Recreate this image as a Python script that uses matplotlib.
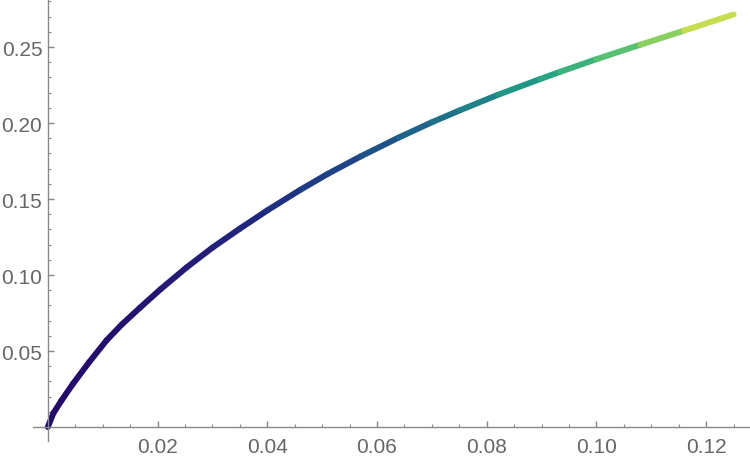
import matplotlib
matplotlib.use('Agg')
import matplotlib.pyplot as plt
import numpy as np
from matplotlib.collections import LineCollection
from matplotlib.colors import LinearSegmentedColormap
from matplotlib.ticker import MultipleLocator

# values
xs = [0, 0.001, 0.0025, 0.0046, 0.0075, 0.0107, 0.0135, 0.0168, 0.0205, 0.0253,
      0.030, 0.035, 0.040, 0.046, 0.051, 0.057, 0.064, 0.070, 0.0752, 0.082,
      0.0898, 0.0934, 0.100, 0.108, 0.116, 0.125]
ys = [0, 0.009, 0.0175, 0.0285, 0.0425, 0.057, 0.0675, 0.0785, 0.0905, 0.105,
      0.118, 0.1305, 0.1425, 0.156, 0.1665, 0.178, 0.1905, 0.2005, 0.2085, 0.2185,
      0.229, 0.2337, 0.242, 0.2515, 0.2608, 0.2714]

x_ticks = [0.02, 0.04, 0.06, 0.08, 0.10, 0.12]
y_ticks = [0.05, 0.10, 0.15, 0.20, 0.25]

color_stops = [(0.0, '#240a68'), (0.1, '#250f6c'), (0.3, '#22277e'), (0.43, '#1e4487'),
               (0.56, '#1e6a8a'), (0.72, '#22a285'), (0.86, '#66c86c'), (1.0, '#e5e548')]

axis_col = '#888888'
label_col = '#666666'

plt.rcParams['font.family'] = ['Liberation Sans', 'DejaVu Sans']


def main():
    cmap = LinearSegmentedColormap.from_list('bgy', color_stops)
    fig = plt.figure(figsize=(7.5, 4.6), dpi=100)
    ax = fig.add_axes([33 / 750, 18 / 460, 717 / 750, 442 / 460])

    x = np.array(xs)
    y = np.array(ys)
    pts = np.column_stack([x, y]).reshape(-1, 1, 2)
    segs = np.concatenate([pts[:-1], pts[1:]], axis=1)
    mid = (x[:-1] + x[1:]) / 2 / x.max()
    lc = LineCollection(segs, colors=cmap(mid), linewidths=4.3, capstyle='round',
                        joinstyle='round')
    ax.add_collection(lc)

    ax.set_xlim(-0.0027, 0.128)
    ax.set_ylim(-0.0092, 0.2816)

    for s in ['top', 'right']:
        ax.spines[s].set_visible(False)
    for s in ['left', 'bottom']:
        ax.spines[s].set_position(('data', 0))
        ax.spines[s].set_color(axis_col)
        ax.spines[s].set_linewidth(1.0)

    ax.set_xticks(x_ticks)
    ax.set_xticklabels(['%.2f' % v for v in x_ticks])
    ax.set_yticks(y_ticks)
    ax.set_yticklabels(['%.2f' % v for v in y_ticks])
    ax.xaxis.set_minor_locator(MultipleLocator(0.005))
    ax.yaxis.set_minor_locator(MultipleLocator(0.01))

    ax.tick_params(which='both', direction='in', color=axis_col, labelcolor=label_col,
                   labelsize=15)
    ax.tick_params(which='major', length=4, width=1)
    ax.tick_params(which='minor', length=2.5, width=0.8)
    ax.tick_params(axis='x', pad=7)
    ax.tick_params(axis='y', pad=4)

    fig.savefig('out.png', dpi=100)


if __name__ == '__main__':
    main()
